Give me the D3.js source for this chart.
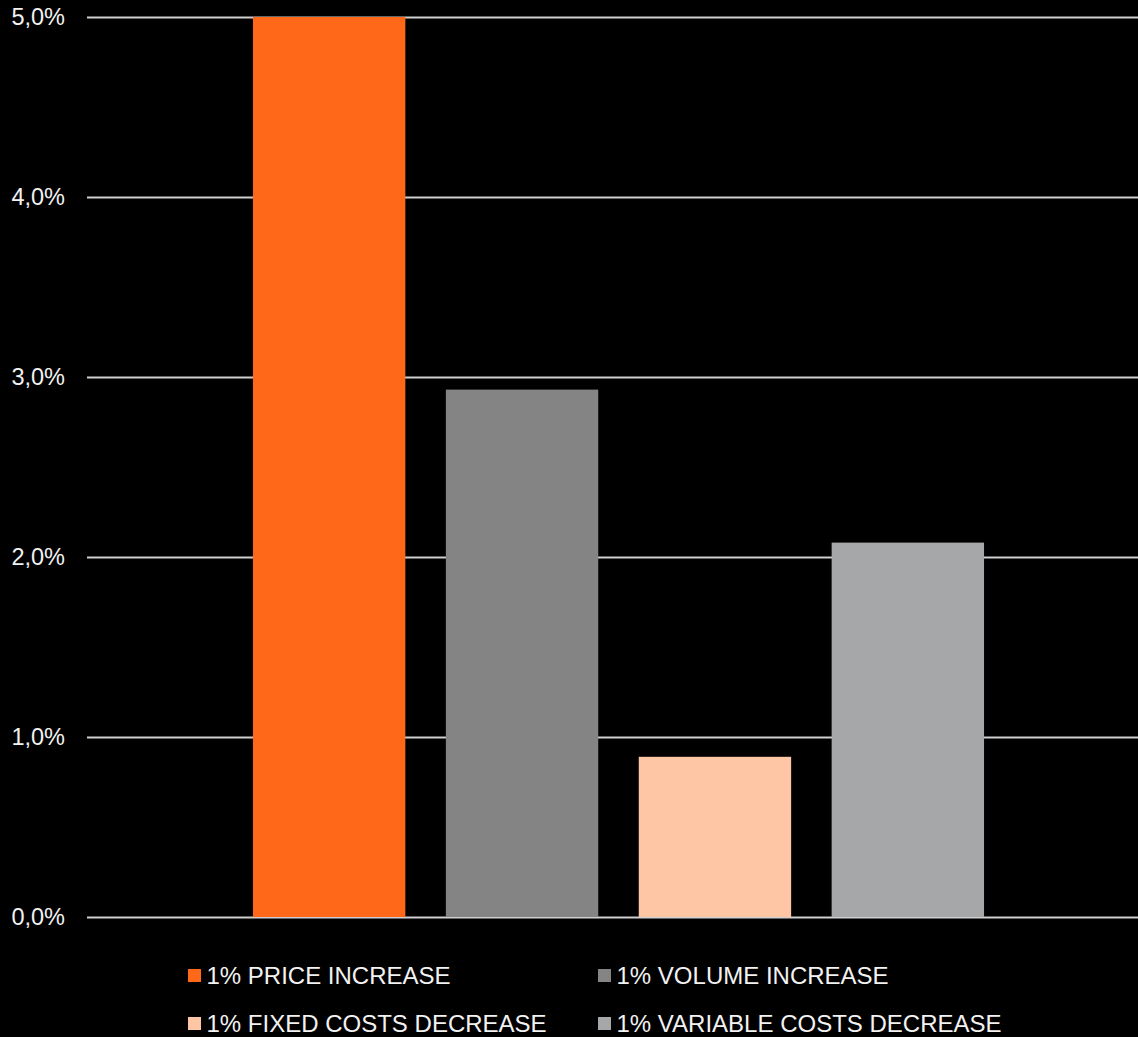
<!DOCTYPE html>
<html>
<head>
<meta charset="utf-8">
<script src="https://cdn.jsdelivr.net/npm/d3@7"></script>
<style>
  html, body { margin: 0; padding: 0; background: #000; }
  svg { display: block; }
</style>
</head>
<body>
<div id="chart"></div>
<script>
const category = ["Effect"];
const seriesNames = ["1% PRICE INCREASE", "1% VOLUME INCREASE", "1% FIXED COSTS DECREASE", "1% VARIABLE COSTS DECREASE"];
const seriesValues = [5.0, 2.93, 0.89, 2.08];
const seriesColors = ["#FF6818", "#848484", "#FFC6A5", "#A6A7A9"];
const yTicks = [0, 1, 2, 3, 4, 5];

const W = 1138, H = 1037;
const plot = { left: 87, right: 1150, top: 17, bottom: 917 };
const fontFamily = "Arial, 'Liberation Sans', Helvetica, sans-serif";

const svg = d3.select("#chart").append("svg")
  .attr("width", W).attr("height", H)
  .style("background", "#000");

const y = d3.scaleLinear().domain([0, 5]).range([plot.bottom, plot.top]);
const x0 = d3.scaleBand().domain(category).range([plot.left, plot.right]).paddingInner(0).paddingOuter(0.227);
const x1 = d3.scaleBand().domain(seriesNames).range([0, x0.bandwidth()]).paddingInner(0.21).paddingOuter(0);

// gridlines + labels via axis
const yAxis = d3.axisLeft(y).tickValues(yTicks)
  .tickSize(-(plot.right - plot.left))
  .tickPadding(22)
  .tickFormat(d => d3.format(".1f")(d).replace(".", ",") + "%");

const gAxis = svg.append("g")
  .attr("transform", `translate(${plot.left},0)`)
  .call(yAxis);
gAxis.select(".domain").remove();
gAxis.selectAll(".tick line").attr("stroke", "#cfcfcf").attr("stroke-width", 2);
gAxis.selectAll(".tick text")
  .attr("fill", "#f2f2f2")
  .style("font-family", fontFamily)
  .style("font-size", "23.5px");

// bars
const gBars = svg.append("g");
category.forEach(cat => {
  gBars.selectAll("rect.bar")
    .data(seriesNames.map((s, i) => ({ s, v: seriesValues[i], c: seriesColors[i] })))
    .enter().append("rect")
    .attr("class", "bar")
    .attr("x", d => x0(cat) + x1(d.s))
    .attr("width", x1.bandwidth())
    .attr("y", d => y(d.v))
    .attr("height", d => y(0) - y(d.v))
    .attr("fill", d => d.c);
});

// legend
const legendCols = [188, 598];
const legendRows = [976, 1024];
const legend = svg.append("g");
seriesNames.forEach((s, i) => {
  const col = i % 2, row = Math.floor(i / 2);
  const g = legend.append("g").attr("transform", `translate(${legendCols[col]},${legendRows[row]})`);
  g.append("rect").attr("x", 0).attr("y", -7).attr("width", 13).attr("height", 13).attr("fill", seriesColors[i]);
  g.append("text").attr("x", 18.5).attr("y", 0).attr("dy", "0.35em")
    .attr("fill", "#f2f2f2")
    .style("font-family", fontFamily)
    .style("font-size", "24px")
    .text(s);
});
</script>
</body>
</html>
